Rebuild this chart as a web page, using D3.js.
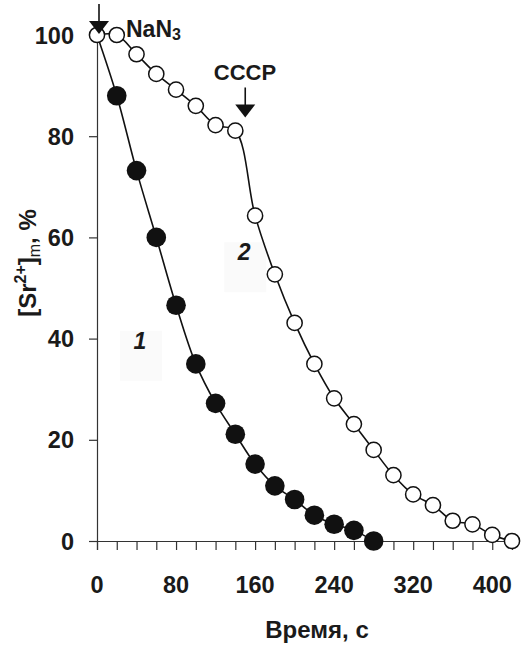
<!DOCTYPE html>
<html>
<head>
<meta charset="utf-8">
<script src="https://cdn.jsdelivr.net/npm/d3@7"></script>
<style>
  html, body { margin: 0; padding: 0; background: #fff; }
  svg { display: block; }
  text { font-family: "Liberation Sans", Arial, sans-serif; font-weight: bold; fill: #1a1a1a; }
</style>
</head>
<body>
<svg id="chart" width="523" height="648"></svg>
<script>
// Time points, s
const time1 = [0, 20, 40, 60, 80, 100, 120, 140, 160, 180, 200, 220, 240, 260, 280];
const time2 = [0, 20, 40, 60, 80, 100, 120, 140, 160, 180, 200, 220, 240, 260, 280, 300, 320, 340, 360, 380, 400, 420];
// Curve 1: NaN3 alone; curve 2: NaN3, then CCCP
const sr1 = [100, 88, 73.2, 60, 46.6, 35, 27.2, 21.1, 15.2, 10.9, 8.2, 5.1, 3.3, 2.1, 0];
const sr2 = [100, 100, 96.2, 92.3, 89.2, 86, 82.2, 81.1, 64.3, 52.7, 43.1, 35, 28.2, 23.1, 18, 13, 9.2, 7.1, 4, 3.3, 1.2, 0];
const xTicks = [0, 20, 40, 60, 80, 100, 120, 140, 160, 180, 200, 220, 240, 260, 280, 300, 320, 340, 360, 380, 400, 420];
const xTickLabels = [0, 80, 160, 240, 320, 400];
const yTicks = [0, 20, 40, 60, 80, 100];
// Additions marked by arrows: [time, level at the arrow tip, label]
const additions = [[0, 100, "NaN3"], [148, 83.5, "CCCP"]];
const curveLabels = [["1", 43.5, 38], ["2", 149, 55.5]];

const svg = d3.select("#chart");
const x = d3.scaleLinear().domain([0, 420]).range([97, 512]);
const y = d3.scaleLinear().domain([0, 100]).range([541, 35]);

// Axes
const xAxis = d3.axisBottom(x).tickValues(xTicks).tickSize(9).tickFormat("");
const gx = svg.append("g").attr("transform", `translate(0,${y(0)})`).call(xAxis);
gx.select(".domain").attr("stroke", "#333").attr("stroke-width", 1.2);
gx.selectAll(".tick line").attr("stroke", "#333").attr("stroke-width", 1.2);

svg.append("g").selectAll("text").data(xTickLabels).join("text")
  .attr("x", d => x(d)).attr("y", 593)
  .attr("text-anchor", "middle").attr("font-size", 23.5)
  .text(d => d);

const yAxis = d3.axisLeft(y).tickValues(yTicks).tickSize(8).tickFormat("");
const gy = svg.append("g").attr("transform", `translate(${x(0)},0)`).call(yAxis);
gy.select(".domain").attr("stroke", "#333").attr("stroke-width", 1.2);
gy.selectAll(".tick line").attr("stroke", "#333").attr("stroke-width", 1.2);

svg.append("g").selectAll("text").data(yTicks).join("text")
  .attr("x", 74).attr("y", d => y(d) + 8.5)
  .attr("text-anchor", "end").attr("font-size", 23.5)
  .text(d => d);

// Axis titles
svg.append("text").attr("x", 317).attr("y", 638)
  .attr("text-anchor", "middle").attr("font-size", 24)
  .text("Время, с");

const yTitle = svg.append("text")
  .attr("transform", "translate(36,263) rotate(-90)")
  .attr("text-anchor", "middle").attr("font-size", 24);
yTitle.append("tspan").text("[Sr");
yTitle.append("tspan").attr("font-size", 16).attr("dy", -10).text("2+");
yTitle.append("tspan").attr("dy", 10).text("]");
yTitle.append("tspan").attr("font-size", 16).attr("font-weight", "normal").attr("dy", 4).text("m");
yTitle.append("tspan").attr("dy", -4).text(", %");

// Curve labels on faint boxes
curveLabels.forEach(([t, tx, ty]) => {
  svg.append("rect")
    .attr("x", x(tx) - 20).attr("y", y(ty) - 18)
    .attr("width", 42).attr("height", 50)
    .attr("fill", "#fafafa");
  svg.append("text").attr("x", x(tx)).attr("y", y(ty))
    .attr("text-anchor", "middle").attr("font-size", 23)
    .attr("font-style", "italic").text(t);
});

// Smoothed kinetic curves
const line = d3.line().x(d => x(d[0])).y(d => y(d[1])).curve(d3.curveCatmullRom.alpha(0.5));
const pts1 = time1.map((t, i) => [t, sr1[i]]);
const pts2 = time2.map((t, i) => [t, sr2[i]]);
[pts1, pts2].forEach(p => {
  svg.append("path").datum(p).attr("d", line)
    .attr("fill", "none").attr("stroke", "#111").attr("stroke-width", 1.6);
});

// Markers: the shared starting point is marked once, by the open circle
svg.append("g").selectAll("circle").data(pts1.slice(1)).join("circle")
  .attr("cx", d => x(d[0])).attr("cy", d => y(d[1])).attr("r", 9.8)
  .attr("fill", "#111");
svg.append("g").selectAll("circle").data(pts2).join("circle")
  .attr("cx", d => x(d[0])).attr("cy", d => y(d[1])).attr("r", 7.6)
  .attr("fill", "#fff").attr("stroke", "#111").attr("stroke-width", 1.5);

// Addition arrows
additions.forEach(([t, v, label]) => {
  const ax = x(t) + 2, tip = y(v) - 1;
  svg.append("line").attr("x1", ax).attr("x2", ax)
    .attr("y1", tip - 30).attr("y2", tip - 10)
    .attr("stroke", "#111").attr("stroke-width", 1.6);
  svg.append("path")
    .attr("d", `M${ax - 10},${tip - 13} L${ax + 10},${tip - 13} L${ax},${tip} Z`)
    .attr("fill", "#111");
});

// NaN3 label with subscript
const nan = svg.append("text").attr("x", 126).attr("y", 37).attr("font-size", 23);
nan.append("tspan").text("NaN");
nan.append("tspan").attr("font-size", 16).attr("dy", 3).text("3");

svg.append("text").attr("x", 245).attr("y", 80)
  .attr("text-anchor", "middle").attr("font-size", 22)
  .text("CCCP");
</script>
</body>
</html>
